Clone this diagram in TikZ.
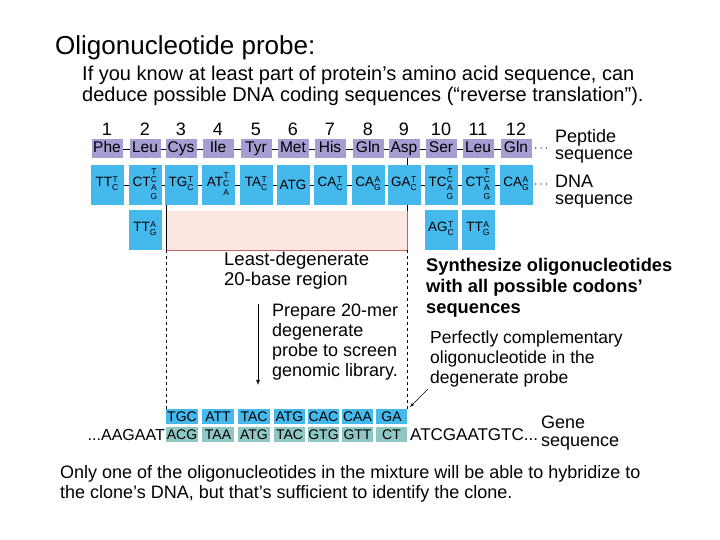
\documentclass[tikz,border=0pt]{standalone}
\usepackage{fontspec}
\setmainfont{Liberation Sans}
\begin{document}
\definecolor{pep}{HTML}{A39FD2}
\definecolor{dna}{HTML}{45B8EC}
\definecolor{gene}{HTML}{8FC7C2}
\definecolor{pinkf}{HTML}{FDE5E1}
\newcommand{\cdn}[2]{#1{\fontsize{8.5}{8}\selectfont\begin{tabular}[c]{@{}c@{}}#2\end{tabular}}}
\begin{tikzpicture}[x=1pt,y=-1pt,
 pepbox/.style={fill=pep,minimum width=31pt,minimum height=19pt,inner sep=0pt,text height=11pt,text depth=3pt,font=\fontsize{15.5}{15}\selectfont},
 dnabox/.style={fill=dna,minimum width=33pt,minimum height=40pt,inner sep=0pt,font=\fontsize{13.5}{13}\selectfont},
 gbox/.style={minimum height=15pt,inner sep=0pt,text height=10pt,text depth=1pt,font=\fontsize{14}{12}\selectfont},
 txt/.style={align=left,anchor=north west,inner sep=0pt},
 lab/.style={align=left,anchor=north west,inner sep=0pt}]
\useasboundingbox (0,0) rectangle (720,540);
\node[anchor=west,inner sep=0pt,font=\fontsize{26}{26}\selectfont] (title) at (55,48) {Oligonucleotide probe:};
\node[txt,font=\fontsize{20}{21}\selectfont] (sub) at (82,66) {If you know at least part of protein’s amino acid sequence, can\\deduce possible DNA coding sequences (“reverse translation”).};
\fill[pinkf] (166,211) rectangle (407,250);
\draw[red!60!black!60,thick] (166,250) -- (407,250) -- (407,211);
\draw[thin] (166,165) -- (166,250);
\draw[thin] (407,158) -- (407,211);
\draw[dashed,thick] (166,250) -- (166,409);
\draw[dashed,thick] (407,250) -- (407,409);
\draw (92,149) -- (531,149);
\draw (92,185) -- (531,185);
\def\xs{107,145,181,218,256,293,330,368,404,441,478,516}
\foreach \x [count=\i] in \xs {\node[font=\fontsize{18}{18}\selectfont] (n\i) at (\x,129) {\i};}
\foreach \x/\aa [count=\i] in {107/Phe,145/Leu,181/Cys,218/Ile,256/Tyr,293/Met,330/His,368/Gln,404/Asp,441/Ser,478/Leu,516/Gln}
  {\node[pepbox] (p\i) at (\x,149) {\aa};}
\node[dnabox] (d1) at (107,185) {\cdn{TT}{T\\C}};
\node[dnabox] (d2) at (145,185) {\cdn{CT}{T\\C\\A\\G}};
\node[dnabox] (d3) at (181,185) {\cdn{TG}{T\\C}};
\node[dnabox] (d4) at (218,185) {\cdn{AT}{T\\C\\A}};
\node[dnabox] (d5) at (256,185) {\cdn{TA}{T\\C}};
\node[dnabox] (d6) at (293,185) {ATG};
\node[dnabox] (d7) at (330,185) {\cdn{CA}{T\\C}};
\node[dnabox] (d8) at (368,185) {\cdn{CA}{A\\G}};
\node[dnabox] (d9) at (404,185) {\cdn{GA}{T\\C}};
\node[dnabox] (d10) at (441,185) {\cdn{TC}{T\\C\\A\\G}};
\node[dnabox] (d11) at (478,185) {\cdn{CT}{T\\C\\A\\G}};
\node[dnabox] (d12) at (516,185) {\cdn{CA}{A\\G}};
\node[dnabox] (e2) at (145,230) {\cdn{TT}{A\\G}};
\node[dnabox] (e10) at (441,230) {\cdn{AG}{T\\C}};
\node[dnabox] (e11) at (478,230) {\cdn{TT}{A\\G}};
\node[anchor=west,font=\fontsize{12}{12}\selectfont,inner sep=0pt] (dots1) at (534,149) {$\cdots$};
\node[anchor=west,font=\fontsize{12}{12}\selectfont,inner sep=0pt] (dots2) at (534,185) {$\cdots$};
\node[lab,font=\fontsize{18}{17}\selectfont] (pl) at (555,129) {Peptide\\sequence};
\node[lab,font=\fontsize{18}{17}\selectfont] (dl) at (555,175) {DNA\\sequence};
\node[lab,font=\fontsize{18.5}{20}\selectfont] (ld) at (224,252) {Least-degenerate\\20-base region};
\node[lab,font=\fontsize{18}{20}\selectfont] (prep) at (272,304) {Prepare 20-mer\\degenerate\\probe to screen\\genomic library.};
\coordinate (a1) at (258,304);
\coordinate (a2) at (258,385);
\draw[-latex,thick] (a1) -- (a2);
\node[lab,font=\fontsize{18.3}{21}\selectfont\bfseries] (syn) at (426,258) {Synthesize oligonucleotides\\with all possible codons’\\sequences};
\node[lab,font=\fontsize{17.5}{20}\selectfont] (perf) at (430,331) {Perfectly complementary\\oligonucleotide in the\\degenerate probe};
\coordinate (pe) at (428,389);
\coordinate (ps) at (410,407);
\draw[-latex] (pe) -- (ps);
\foreach \a/\b/\t/\u [count=\i] in {166/198/TGC/ACG,202/234/ATT/TAA,238/270/TAC/ATG,274/305/ATG/TAC,308/339/CAC/GTG,342/373/CAA/GTT,376/407/GA/CT}{
  \node[gbox,fill=dna,minimum width=\b pt-\a pt] (t\i) at ({(\a+\b)/2},416.5) {\t};
  \node[gbox,fill=gene,minimum width=\b pt-\a pt] (g\i) at ({(\a+\b)/2},434.5) {\u};}
\node[anchor=east,inner sep=0pt,font=\fontsize{16}{12}\selectfont] (lg) at (165,435) {...AAGAAT};
\node[anchor=west,inner sep=0pt,font=\fontsize{17}{12}\selectfont] (rg) at (410,435) {ATCGAATGTC...};
\node[lab,font=\fontsize{18}{18}\selectfont] (gl) at (541,416) {Gene\\sequence};
\node[txt,font=\fontsize{18}{20}\selectfont] (bot) at (60,465) {Only one of the oligonucleotides in the mixture will be able to hybridize to\\the clone’s DNA, but that’s sufficient to identify the clone.};
\end{tikzpicture}
\end{document}
